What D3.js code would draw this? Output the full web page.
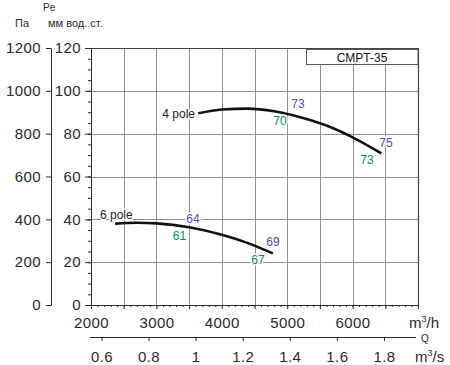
<!DOCTYPE html>
<html>
<head>
<meta charset="utf-8">
<script src="https://cdn.jsdelivr.net/npm/d3@7"></script>
<style>
  body { margin: 0; background: #fff; }
  svg { display: block; font-family: "Liberation Sans", Arial, sans-serif; }
</style>
</head>
<body>
<svg width="450" height="365"></svg>
<script>
// curve points: [Q m3/h, Pa]
const pole4 = [[3640, 895], [4000, 913], [4400, 917], [4800, 905], [5200, 877], [5600, 838], [6000, 783], [6440, 708]];
const pole6 = [[2370, 380], [2700, 384], [3000, 381], [3500, 363], [4000, 328], [4400, 289], [4780, 241]];

// efficiency / noise labels: [Q, Pa, text]
const blueLabels = [[5165, 938, "73"], [6511, 756, "75"], [3560, 401, "64"], [4783, 294, "69"]];
const greenLabels = [[4890, 859, "70"], [6220, 677, "73"], [3353, 322, "61"], [4554, 210, "67"]];
const curveNames = [[3590, 892, "4 pole", "end"], [2138, 420, "6 pole", "start"]];

const qTicks = [2000, 3000, 4000, 5000, 6000];
const sTicks = [0.6, 0.8, 1, 1.2, 1.4, 1.6, 1.8];
const paTicks = [0, 200, 400, 600, 800, 1000, 1200];
const mmTicks = [0, 20, 40, 60, 80, 100, 120];

const svg = d3.select("svg");
const pLeft = 91, pRight = 418, pTop = 48, pBottom = 305;

const x = d3.scaleLinear().domain([2000, 7000]).range([pLeft, pRight]);
const y = d3.scaleLinear().domain([0, 1200]).range([pBottom, pTop]);
const xs = d3.scaleLinear().domain([2000 / 3600, 7000 / 3600]).range([pLeft, pRight]);
const ymm = d3.scaleLinear().domain([0, 120]).range([pBottom, pTop]);

const dark = "#2a2a2a";

// grid
const grid = svg.append("g").attr("stroke", "#8f8f8f").attr("stroke-width", 1);
grid.selectAll("line.v")
  .data(d3.range(2500, 7000, 500))
  .enter().append("line")
  .attr("x1", d => Math.round(x(d)) + 0.5).attr("x2", d => Math.round(x(d)) + 0.5)
  .attr("y1", pTop).attr("y2", pBottom);
grid.selectAll("line.h")
  .data(d3.range(200, 1200, 200))
  .enter().append("line")
  .attr("x1", pLeft).attr("x2", pRight)
  .attr("y1", d => Math.round(y(d)) + 0.5).attr("y2", d => Math.round(y(d)) + 0.5);

// frame top / right
svg.append("path")
  .attr("d", `M${pLeft},${pTop + 0.5}H${pRight + 0.5}V${pBottom}`)
  .attr("fill", "none").attr("stroke", "#444").attr("stroke-width", 1.2);

function styleAxis(g) {
  g.selectAll("path, line").attr("stroke", dark);
  g.selectAll("text").attr("fill", dark).style("font-family", "Liberation Sans, Arial, sans-serif");
}

// Pa axis
svg.append("g")
  .attr("transform", "translate(51,0)")
  .call(d3.axisLeft(y).tickValues(paTicks).tickFormat(d3.format("d")).tickSize(5).tickPadding(5).tickSizeOuter(0))
  .call(styleAxis)
  .call(g => g.selectAll("text").attr("font-size", 15).attr("letter-spacing", 0.4));

// mm axis: minor ticks then labelled ticks
svg.append("g")
  .attr("transform", `translate(${pLeft},0)`)
  .call(d3.axisLeft(ymm).tickValues(d3.range(0, 121, 5)).tickSize(3).tickFormat("").tickSizeOuter(0))
  .call(styleAxis);
svg.append("g")
  .attr("transform", `translate(${pLeft},0)`)
  .call(d3.axisLeft(ymm).tickValues(mmTicks).tickFormat(d3.format("d")).tickSize(6).tickPadding(4).tickSizeOuter(0))
  .call(styleAxis)
  .call(g => g.selectAll("text").attr("font-size", 15).attr("letter-spacing", 0.4));

// m3/h axis
svg.append("g")
  .attr("transform", `translate(0,${pBottom})`)
  .call(d3.axisBottom(x).tickValues(d3.range(2000, 7001, 100)).tickSize(2).tickFormat("").tickSizeOuter(0))
  .call(styleAxis);
svg.append("g")
  .attr("transform", `translate(0,${pBottom})`)
  .call(d3.axisBottom(x).tickValues(d3.range(2000, 7001, 500)).tickSize(4).tickFormat("").tickSizeOuter(0))
  .call(styleAxis)
  .call(g => g.select(".domain").remove());
svg.append("g")
  .attr("transform", `translate(0,${pBottom})`)
  .call(d3.axisBottom(x).tickValues(qTicks).tickSize(0).tickPadding(12).tickFormat(d3.format("d")))
  .call(styleAxis)
  .call(g => g.select(".domain").remove())
  .call(g => g.selectAll("text").attr("font-size", 15).attr("letter-spacing", 0.4));

// m3/s axis
svg.append("g")
  .attr("transform", "translate(0,337)")
  .call(d3.axisBottom(xs).tickValues(sTicks).tickFormat(d => String(d)).tickSize(4).tickPadding(10).tickSizeOuter(0))
  .call(styleAxis)
  .call(g => g.select(".domain").attr("d", `M${pLeft - 1},0.5H${pRight - 2}`))
  .call(g => g.selectAll("text").attr("font-size", 15).attr("letter-spacing", 0.4));

// unit labels
const unit = svg.append("g").attr("fill", dark);
unit.append("text").attr("x", 409).attr("y", 328).attr("font-size", 15)
  .html('m<tspan font-size="9" dy="-6">3</tspan><tspan dy="6">/h</tspan>');
unit.append("text").attr("x", 415).attr("y", 362).attr("font-size", 15)
  .html('m<tspan font-size="9" dy="-6">3</tspan><tspan dy="6">/s</tspan>');
unit.append("text").attr("x", 421).attr("y", 342).attr("font-size", 10).text("Q");
unit.append("text").attr("x", 15).attr("y", 27).attr("font-size", 11).text("Па");
unit.append("text").attr("x", 43).attr("y", 11).attr("font-size", 10).text("Pe");
unit.append("text").attr("x", 48).attr("y", 27).attr("font-size", 11).text("мм вод. ст.");

// model box
svg.append("rect")
  .attr("x", 306.5).attr("y", pTop + 1.5).attr("width", pRight - 306.5).attr("height", 15)
  .attr("fill", "#fff").attr("stroke", "#555").attr("stroke-width", 1);
svg.append("text")
  .attr("x", 362).attr("y", 61.5).attr("text-anchor", "middle")
  .attr("font-size", 12).attr("fill", "#111").text("CMPT-35");

// curves
const line = d3.line().x(d => x(d[0])).y(d => y(d[1])).curve(d3.curveMonotoneX);
svg.selectAll("path.curve")
  .data([pole4, pole6])
  .enter().append("path")
  .attr("class", "curve")
  .attr("d", line)
  .attr("fill", "none").attr("stroke", "#111").attr("stroke-width", 2.6);

// labels with white halo
function addLabels(data, color) {
  svg.append("g").selectAll("text")
    .data(data)
    .enter().append("text")
    .attr("x", d => x(d[0])).attr("y", d => y(d[1]))
    .attr("text-anchor", d => d[3] || "middle")
    .attr("dominant-baseline", "central")
    .attr("font-size", 12)
    .attr("fill", color)
    .attr("stroke", "#fff").attr("stroke-width", 3).attr("paint-order", "stroke")
    .text(d => d[2]);
}
addLabels(curveNames, "#222");
addLabels(blueLabels, "#4550b0");
addLabels(greenLabels, "#08905c");
</script>
</body>
</html>
